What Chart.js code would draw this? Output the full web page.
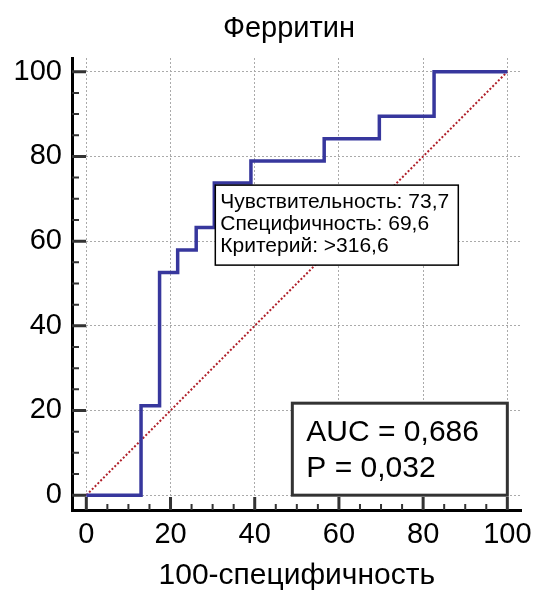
<!DOCTYPE html>
<html>
<head>
<meta charset="utf-8">
<title>Ферритин</title>
<script src="https://cdn.jsdelivr.net/npm/chart.js@4.4.1/dist/chart.umd.min.js"></script>
<style>
  html, body { margin: 0; padding: 0; background: #fff; }
  #wrap { width: 540px; height: 597px; }
</style>
</head>
<body>
<div id="wrap"><canvas id="roc" width="540" height="597"></canvas></div>
<script>
// ROC curve for ferritin: 100-specificity vs sensitivity (%)
const fpr  = [0, 13.0, 17.4, 21.7, 26.1, 30.4, 39.1, 56.5, 69.6, 82.6, 100];
const sens = [0, 21.1, 52.6, 57.9, 63.2, 73.7, 78.9, 84.2, 89.5, 100, 100];

const majorTicks = [0, 20, 40, 60, 80, 100];
const minorTicks = [5, 10, 15, 25, 30, 35, 45, 50, 55, 65, 70, 75, 85, 90, 95];

// best cut-off point and summary stats
const critFpr = 30.4;
const critSens = 73.7;
const critSpec = 69.6;
const critValue = 316.6;
const auc = 0.686;
const pValue = 0.032;

const FONT = "'Liberation Sans', Arial, sans-serif";
const comma = (v, d) => v.toFixed(d).replace(".", ",");

// inward tick marks on both axes
const tickMarks = {
  id: "tickMarks",
  afterDraw(chart) {
    const { ctx, chartArea, scales } = chart;
    ctx.save();
    ctx.strokeStyle = "#333";
    majorTicks.forEach((v) => {
      const x = scales.x.getPixelForValue(v);
      const y = scales.y.getPixelForValue(v);
      ctx.lineWidth = 3;
      ctx.beginPath();
      ctx.moveTo(x, chartArea.bottom);
      ctx.lineTo(x, chartArea.bottom - 13);
      ctx.moveTo(chartArea.left, y);
      ctx.lineTo(chartArea.left + 14, y);
      ctx.stroke();
    });
    minorTicks.forEach((v) => {
      const x = scales.x.getPixelForValue(v);
      const y = scales.y.getPixelForValue(v);
      ctx.lineWidth = 2;
      ctx.beginPath();
      ctx.moveTo(x, chartArea.bottom);
      ctx.lineTo(x, chartArea.bottom - 6);
      ctx.moveTo(chartArea.left, y);
      ctx.lineTo(chartArea.left + 7, y);
      ctx.stroke();
    });
    ctx.restore();
  }
};

// title, cut-off box and AUC box
const overlays = {
  id: "overlays",
  afterDatasetsDraw(chart) {
    const { ctx, scales } = chart;
    ctx.save();
    ctx.fillStyle = "#000";
    ctx.font = "29px " + FONT;
    ctx.textAlign = "center";
    ctx.textBaseline = "middle";
    ctx.fillText("Ферритин", 289, 29);

    // cut-off box, top-left corner at the criterion point
    const bx = scales.x.getPixelForValue(critFpr) + 1;
    const by = scales.y.getPixelForValue(critSens) + 2;
    const bw = 243, bh = 80;
    ctx.fillStyle = "#fff";
    ctx.fillRect(bx, by, bw, bh);
    ctx.strokeStyle = "#000";
    ctx.lineWidth = 1.5;
    ctx.strokeRect(bx, by, bw, bh);
    ctx.fillStyle = "#000";
    ctx.font = "21px " + FONT;
    ctx.textAlign = "left";
    ctx.textBaseline = "alphabetic";
    ctx.fillText("Чувствительность: " + comma(critSens, 1), bx + 5, by + 23);
    ctx.fillText("Специфичность: " + comma(critSpec, 1), bx + 5, by + 45);
    ctx.fillText("Критерий: >" + comma(critValue, 1), bx + 5, by + 67);

    // AUC box anchored to the bottom-right of the data range
    const ax2 = scales.x.getPixelForValue(100);
    const ay2 = scales.y.getPixelForValue(0);
    const aw = 215, ah = 92;
    const ax = ax2 - aw, ay = ay2 - ah;
    ctx.fillStyle = "#fff";
    ctx.fillRect(ax, ay, aw, ah);
    ctx.strokeStyle = "#333";
    ctx.lineWidth = 3;
    ctx.strokeRect(ax, ay, aw, ah);
    ctx.fillStyle = "#000";
    ctx.font = "30px " + FONT;
    ctx.fillText("AUC = " + comma(auc, 3), ax + 14, ay + 38);
    ctx.fillText("P = " + comma(pValue, 3), ax + 14, ay + 74);
    ctx.restore();
  }
};

new Chart(document.getElementById("roc"), {
  type: "scatter",
  data: {
    datasets: [
      {
        label: "ROC",
        data: fpr.map((x, i) => ({ x: x, y: sens[i] })),
        showLine: true,
        stepped: "before",
        borderColor: "#37379d",
        borderWidth: 3.5,
        pointRadius: 0,
        fill: false
      },
      {
        label: "Reference",
        data: [{ x: 0, y: 0 }, { x: 100, y: 100 }],
        showLine: true,
        borderColor: "#b0202a",
        borderWidth: 2,
        borderDash: [2, 2],
        pointRadius: 0,
        fill: false
      }
    ]
  },
  options: {
    responsive: false,
    animation: false,
    layout: { padding: { top: 58, right: 15, left: 0, bottom: 0 } },
    plugins: {
      legend: { display: false },
      tooltip: { enabled: false }
    },
    scales: {
      x: {
        type: "linear",
        min: -3.4,
        max: 103.4,
        afterBuildTicks: (axis) => { axis.ticks = majorTicks.map((v) => ({ value: v })); },
        afterFit: (axis) => { axis.height = 87; },
        grid: { color: "#aaa", lineWidth: 1, drawTicks: false },
        border: { display: true, color: "#000", width: 3, dash: [2, 2] },
        ticks: { color: "#000", font: { family: FONT, size: 29 }, padding: 8, maxRotation: 0 },
        title: {
          display: true,
          text: "100-специфичность",
          color: "#000",
          font: { family: FONT, size: 30 },
          padding: { top: 0, bottom: 3 }
        }
      },
      y: {
        type: "linear",
        min: -3.5,
        max: 103.25,
        afterBuildTicks: (axis) => { axis.ticks = majorTicks.map((v) => ({ value: v })); },
        afterFit: (axis) => { axis.width = 72; },
        grid: { color: "#aaa", lineWidth: 1, drawTicks: false },
        border: { display: true, color: "#000", width: 3, dash: [2, 2] },
        ticks: { color: "#000", font: { family: FONT, size: 29 }, padding: 10 }
      }
    }
  },
  plugins: [tickMarks, overlays]
});
</script>
</body>
</html>
